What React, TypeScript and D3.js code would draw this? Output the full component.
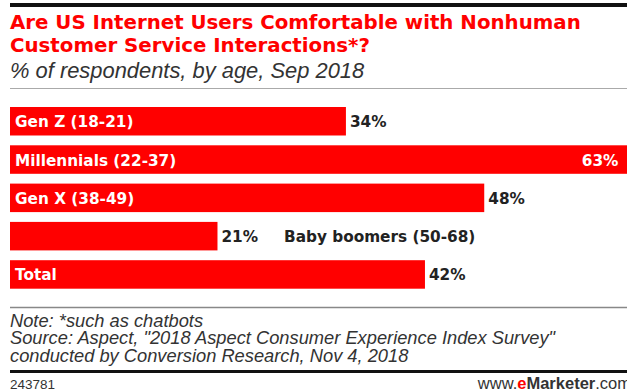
import React from "react";
import * as d3 from "d3";

const categories = ["Gen Z (18-21)", "Millennials (22-37)", "Gen X (38-49)", "Baby boomers (50-68)", "Total"];
const values = [34, 63, 48, 21, 42];
const valueLabels = ["34%", "63%", "48%", "21%", "42%"];

const titleLines = ["Are US Internet Users Comfortable with Nonhuman", "Customer Service Interactions*?"];
const subtitle = "% of respondents, by age, Sep 2018";
const noteLines = [
  "Note: *such as chatbots",
  "Source: Aspect, \"2018 Aspect Consumer Experience Index Survey\"",
  "conducted by Conversion Research, Nov 4, 2018",
];
const chartId = "243781";

const W = 627;
const H = 392;
const RED = "#ff0000";
const BOLD = "'DejaVu Sans', Verdana, sans-serif";
const REG = "'Liberation Sans', Arial, sans-serif";

export default function App() {
  const x = d3.scaleLinear().domain([0, 100]).range([10, 998]);
  const y = d3.scaleBand<string>().domain(categories).range([107, 288.7]).paddingInner(0.256).paddingOuter(0);
  const maxV = d3.max(values) as number;
  const bw = y.bandwidth();

  return (
    <svg width={W} height={H} style={{ position: "absolute", left: 0, top: 0, background: "#fff" }}>
      <rect x={0} y={0} width={W} height={H} fill="#fff" />
      <rect x={10} y={3} width={W - 10} height={4} fill="#111" />
      {titleLines.map((t, i) => (
        <text key={t} x={10} y={28.5 + i * 23.5} fill={RED} fontFamily={BOLD} fontWeight="bold" fontSize={19.8}>
          {t}
        </text>
      ))}
      <text x={10} y={78} fill="#333" fontFamily={REG} fontStyle="italic" fontSize={21.9}>
        {subtitle}
      </text>
      <line x1={10} x2={W} y1={88.5} y2={88.5} stroke="#aaa" strokeWidth={1} />

      {categories.map((c, i) => {
        const v = values[i];
        const y0 = y(c) as number;
        const xe = x(v);
        const base = y0 + bw / 2 + 6;
        const isMax = v === maxV;
        const outside = v < 25;
        return (
          <g key={c}>
            <rect x={x(0)} y={y0} width={xe - x(0)} height={bw} fill={RED} />
            {!outside && (
              <text x={x(0) + 5} y={base} fill="#fff" fontFamily={BOLD} fontWeight="bold" fontSize={15.3}>
                {c}
              </text>
            )}
            {isMax ? (
              <text x={xe - 14} y={base} fill="#fff" textAnchor="end" fontFamily={BOLD} fontWeight="bold" fontSize={15.3}>
                {valueLabels[i]}
              </text>
            ) : (
              <text x={xe + 4} y={base} fill="#222" fontFamily={BOLD} fontWeight="bold" fontSize={15.3}>
                {valueLabels[i]}
              </text>
            )}
            {outside && (
              <text x={xe + 66.5} y={base} fill="#222" fontFamily={BOLD} fontWeight="bold" fontSize={15.3}>
                {c}
              </text>
            )}
          </g>
        );
      })}

      <line x1={10} x2={W} y1={307.5} y2={307.5} stroke="#888" strokeWidth={1.5} />
      {noteLines.map((t, i) => (
        <text key={i} x={10} y={326.5 + i * 17.5} fill="#333" fontFamily={REG} fontStyle="italic" fontSize={18.3}>
          {t}
        </text>
      ))}
      <rect x={10} y={370} width={W - 10} height={3} fill="#111" />
      <text x={10} y={389} fill="#333" fontFamily={REG} fontSize={13.5}>
        {chartId}
      </text>
      <text x={631} y={389} textAnchor="end" fill="#333" fontFamily={REG} fontSize={16.5}>
        <tspan>www.</tspan>
        <tspan fill={RED} fontWeight="bold">e</tspan>
        <tspan fontWeight="bold">Marketer</tspan>
        <tspan>.com</tspan>
      </text>
    </svg>
  );
}
